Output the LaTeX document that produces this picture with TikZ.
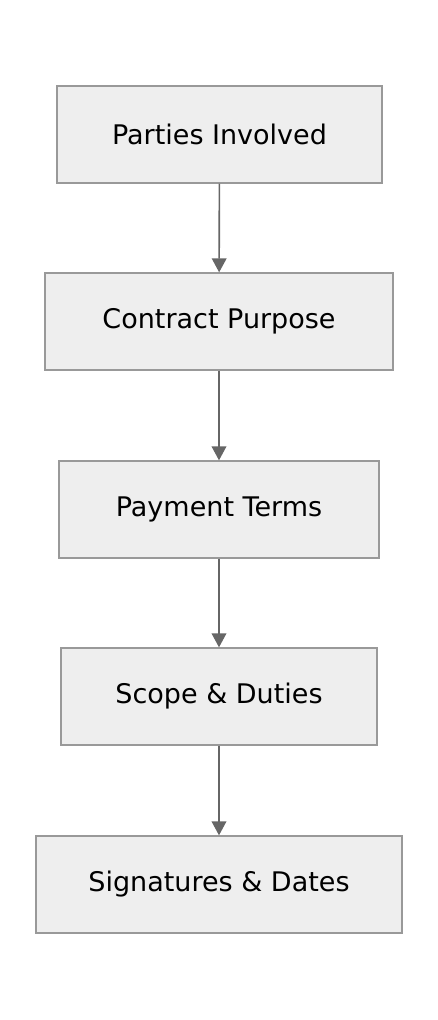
\documentclass[tikz,border=0pt]{standalone}
\usepackage{fontspec}
\setmainfont{DejaVu Sans}
\usetikzlibrary{arrows.meta}
\definecolor{boxfill}{HTML}{EEEEEE}
\definecolor{boxline}{HTML}{999999}
\definecolor{flowline}{HTML}{666666}
\begin{document}
\begin{tikzpicture}[x=0.75pt,y=-0.75pt,
    stagebox/.style={draw=boxline,fill=boxfill,line width=1pt,minimum height=72.75pt,
      inner sep=0pt,font=\fontsize{20.25}{24}\selectfont},
    flow/.style={draw=flowline,line width=1.2pt,-{Triangle[length=10.5pt,width=11pt]}}]
            \useasboundingbox (0,0) rectangle (438,1020);
            % Stages of the contract
            \node[stagebox,minimum width=243.75pt] (parties) at (219.5,134.5) {Parties Involved};
            \node[stagebox,minimum width=261pt] (purpose) at (219,321.5) {Contract Purpose};
            \node[stagebox,minimum width=240pt] (payment) at (219,509.5) {Payment Terms};
            \node[stagebox,minimum width=237pt] (scope) at (219,696.5) {Scope \& Duties};
            \node[stagebox,minimum width=274.5pt] (signs) at (219,884.5) {Signatures \& Dates};
            % Arrows between stages
            \draw[flow] (parties) -- (purpose);
            \draw[flow] (purpose) -- (payment);
            \draw[flow] (payment) -- (scope);
            \draw[flow] (scope) -- (signs);
        \end{tikzpicture}
\end{document}
